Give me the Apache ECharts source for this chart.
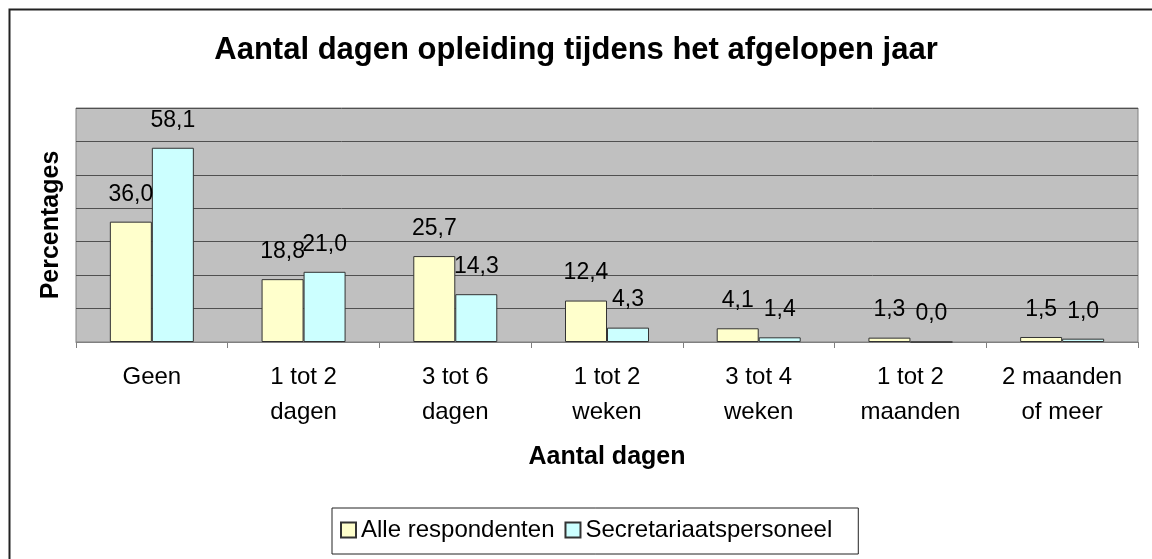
<!DOCTYPE html>
<html><head><meta charset="utf-8">
<script src="https://cdn.jsdelivr.net/npm/echarts@6/dist/echarts.min.js"></script>
<style>html,body{margin:0;padding:0;background:#fff}#c{width:1152px;height:559px}</style>
</head><body><div id="c"></div>
<script>
const categories = ["Geen", "1 tot 2\ndagen", "3 tot 6\ndagen", "1 tot 2\nweken", "3 tot 4\nweken", "1 tot 2\nmaanden", "2 maanden\nof meer"];
const alleRespondenten = [36.0, 18.8, 25.7, 12.4, 4.1, 1.3, 1.5];
const secretariaat = [58.1, 21.0, 14.3, 4.3, 1.4, 0.0, 1.0];
const seriesNames = ["Alle respondenten", "Secretariaatspersoneel"];

const FONT = "Liberation Sans, Arial, sans-serif";
const chart = echarts.init(document.getElementById('c'), null, {renderer: 'canvas'});
const lbl = {
  show: true, position: 'top', distance: 16, color: '#000', fontSize: 23, fontFamily: FONT,
  formatter: p => p.value.toFixed(1).replace('.', ',')
};
chart.setOption({
  animation: false,
  backgroundColor: '#fff',
  title: {
    text: 'Aantal dagen opleiding tijdens het afgelopen jaar',
    left: 'center', top: 30,
    textStyle: {fontSize: 31, fontWeight: 'bold', color: '#000', fontFamily: FONT}
  },
  graphic: [{
    type: 'rect', left: 7, top: 7, shape: {width: 1170, height: 570},
    style: {fill: 'none', stroke: '#222', lineWidth: 2}, silent: true, z: 100
  }],
  legend: {
    top: 508, left: 332,
    itemWidth: 15, itemHeight: 15, itemGap: 10,
    borderColor: '#222', borderWidth: 1, padding: [10, 26, 12, 8],
    textStyle: {fontSize: 24, color: '#000', fontFamily: FONT, padding: [0, 0, 0, 0]},
    data: seriesNames.map(n => ({name: n, icon: 'rect'}))
  },
  grid: {left: 76, right: 14, top: 108, bottom: 217, show: true, backgroundColor: '#c0c0c0', borderColor: '#808080', borderWidth: 1},
  xAxis: {
    type: 'category', data: categories,
    name: 'Aantal dagen', nameLocation: 'middle', nameGap: 103,
    nameTextStyle: {fontSize: 25, fontWeight: 'bold', color: '#000', fontFamily: FONT},
    axisLine: {lineStyle: {color: '#808080'}},
    axisTick: {show: true, length: 6, lineStyle: {color: '#808080'}},
    axisLabel: {color: '#000', fontSize: 24, fontFamily: FONT, margin: 18, lineHeight: 35, interval: 0}
  },
  yAxis: {
    type: 'value', min: 0, max: 70, interval: 10,
    name: 'Percentages', nameLocation: 'middle', nameGap: 12,
    nameTextStyle: {fontSize: 25, fontWeight: 'bold', color: '#000', fontFamily: FONT},
    axisLabel: {show: false}, axisTick: {show: false},
    axisLine: {show: false},
    splitLine: {lineStyle: {color: '#505050', width: 1}}
  },
  series: [
    {name: seriesNames[0], type: 'bar', data: alleRespondenten, barWidth: 42, barGap: '0%',
     itemStyle: {color: '#ffffcc', borderColor: '#333', borderWidth: 1}, label: lbl},
    {name: seriesNames[1], type: 'bar', data: secretariaat, barWidth: 42,
     itemStyle: {color: '#ccffff', borderColor: '#333', borderWidth: 1}, label: lbl}
  ]
});
</script></body></html>
